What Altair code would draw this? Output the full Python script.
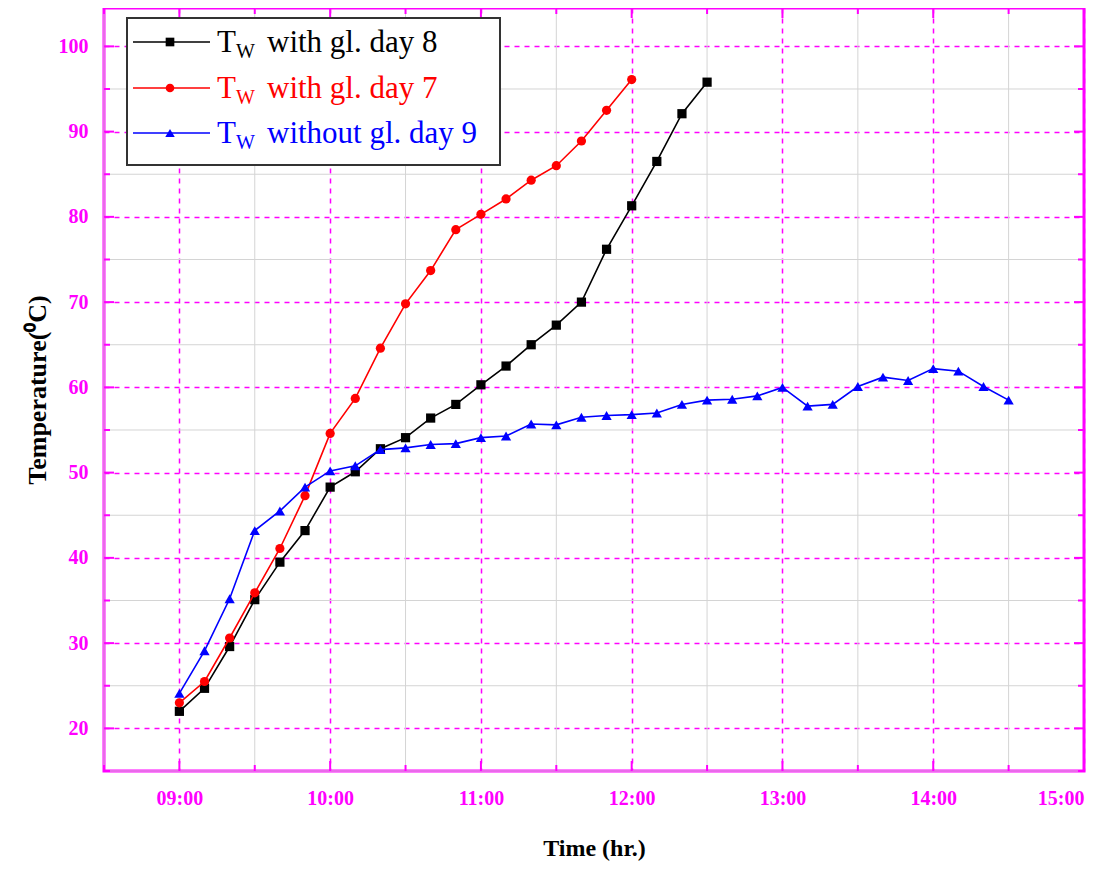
import altair as alt
import pandas as pd

# ---------------- data ----------------
times_black = ["09:00", "09:10", "09:20", "09:30", "09:40", "09:50", "10:00", "10:10",
               "10:20", "10:30", "10:40", "10:50", "11:00", "11:10", "11:20", "11:30",
               "11:40", "11:50", "12:00", "12:10", "12:20", "12:30"]
temp_black = [22.0, 24.7, 29.6, 35.1, 39.5, 43.2, 48.3, 50.1, 52.8, 54.1, 56.4, 58.0,
              60.3, 62.5, 65.0, 67.3, 70.0, 76.2, 81.3, 86.5, 92.1, 95.8]

times_red = ["09:00", "09:10", "09:20", "09:30", "09:40", "09:50", "10:00", "10:10",
             "10:20", "10:30", "10:40", "10:50", "11:00", "11:10", "11:20", "11:30",
             "11:40", "11:50", "12:00"]
temp_red = [23.0, 25.5, 30.6, 35.9, 41.1, 47.3, 54.6, 58.7, 64.6, 69.8, 73.7, 78.5,
            80.3, 82.1, 84.3, 86.0, 88.9, 92.5, 96.1]

times_blue = ["09:00", "09:10", "09:20", "09:30", "09:40", "09:50", "10:00", "10:10",
              "10:20", "10:30", "10:40", "10:50", "11:00", "11:10", "11:20", "11:30",
              "11:40", "11:50", "12:00", "12:10", "12:20", "12:30", "12:40", "12:50",
              "13:00", "13:10", "13:20", "13:30", "13:40", "13:50", "14:00", "14:10",
              "14:20", "14:30"]
temp_blue = [24.1, 29.1, 35.2, 43.2, 45.5, 48.3, 50.2, 50.8, 52.7, 52.9, 53.3, 53.4,
             54.1, 54.3, 55.7, 55.6, 56.5, 56.7, 56.8, 57.0, 58.0, 58.5, 58.6, 59.0,
             60.0, 57.8, 58.0, 60.1, 61.2, 60.8, 62.2, 61.9, 60.1, 58.5]

series_names = ["black", "red", "blue"]
series_colors = ["#000000", "#ff0000", "#0000ff"]
series_shapes = ["square", "circle", "triangle-up"]
legend_rest = ["with gl. day 8", "with gl. day 7", "without gl. day 9"]

x_major = [9, 10, 11, 12, 13, 14, 15]
x_minor = [8.5, 9.5, 10.5, 11.5, 12.5, 13.5, 14.5]
y_major = [20, 30, 40, 50, 60, 70, 80, 90, 100]
y_minor = [15, 25, 35, 45, 55, 65, 75, 85, 95]


def to_hours(t):
    h, m = t.split(":")
    return int(h) + int(m) / 60.0


rows = []
for name, ts, vs in [("black", times_black, temp_black),
                     ("red", times_red, temp_red),
                     ("blue", times_blue, temp_blue)]:
    for t, v in zip(ts, vs):
        rows.append({"series": name, "hour": to_hours(t), "temp": v})
df = pd.DataFrame(rows)

W, H = 980, 763
MAG = "#ff00ff"
FONT = "Liberation Serif"

xscale = alt.Scale(domain=[8.5, 15], nice=False, zero=False)
yscale = alt.Scale(domain=[15, 104.5], nice=False, zero=False)

xaxis = alt.Axis(values=x_major, grid=True, gridColor=MAG, gridDash=[5, 5], gridWidth=1.5,
                 ticks=False, domain=False,
                 labelExpr="(datum.value < 10 ? '0' : '') + datum.value + ':00'",
                 labelColor=MAG, labelFont=FONT, labelFontWeight="bold", labelFontSize=20,
                 labelPadding=17, title="Time (hr.)", titleFont=FONT, titleFontSize=24,
                 titleFontWeight="bold", titleColor="black", titlePadding=28)
yaxis = alt.Axis(values=y_major, grid=True, gridColor=MAG, gridDash=[5, 5], gridWidth=1.5,
                 ticks=False, domain=False,
                 labelColor=MAG, labelFont=FONT, labelFontWeight="bold", labelFontSize=20,
                 labelPadding=16, title="Temperature(⁰C)", titleFont=FONT, titleFontSize=26,
                 titleFontWeight="bold", titleColor="black", titlePadding=8)

xminor_df = pd.DataFrame({"h": x_minor})
yminor_df = pd.DataFrame({"v": y_minor})
xmajor_df = pd.DataFrame({"h": x_major})
ymajor_df = pd.DataFrame({"v": y_major})

base_axes = alt.Chart(df).mark_point(opacity=0).encode(
    x=alt.X("hour:Q", scale=xscale, axis=xaxis),
    y=alt.Y("temp:Q", scale=yscale, axis=yaxis),
)

minor_x_grid = alt.Chart(xminor_df).mark_rule(color="#d4d4d4", strokeWidth=1).encode(
    x=alt.X("h:Q", scale=xscale))
minor_y_grid = alt.Chart(yminor_df).mark_rule(color="#d4d4d4", strokeWidth=1).encode(
    y=alt.Y("v:Q", scale=yscale))

layers = [base_axes, minor_x_grid, minor_y_grid]

# inward ticks on all four sides
for dfx, ln in [(xmajor_df, 10), (xminor_df, 6)]:
    layers.append(alt.Chart(dfx).mark_rule(color=MAG, strokeWidth=2).encode(
        x=alt.X("h:Q", scale=xscale), y=alt.value(H), y2=alt.value(H - ln)))
    layers.append(alt.Chart(dfx).mark_rule(color=MAG, strokeWidth=2).encode(
        x=alt.X("h:Q", scale=xscale), y=alt.value(0), y2=alt.value(ln)))
for dfy, ln in [(ymajor_df, 10), (yminor_df, 6)]:
    layers.append(alt.Chart(dfy).mark_rule(color=MAG, strokeWidth=2).encode(
        y=alt.Y("v:Q", scale=yscale), x=alt.value(0), x2=alt.value(ln)))
    layers.append(alt.Chart(dfy).mark_rule(color=MAG, strokeWidth=2).encode(
        y=alt.Y("v:Q", scale=yscale), x=alt.value(W), x2=alt.value(W - ln)))

# data series
for name, shape in zip(series_names, series_shapes):
    sub = df[df["series"] == name]
    col = series_colors[series_names.index(name)]
    line = alt.Chart(sub).mark_line(color=col, strokeWidth=1.6).encode(
        x=alt.X("hour:Q", scale=xscale), y=alt.Y("temp:Q", scale=yscale))
    sz = 105 if shape == "triangle-up" else 85
    pts = alt.Chart(sub).mark_point(filled=True, color=col, shape=shape, size=sz, opacity=1).encode(
        x=alt.X("hour:Q", scale=xscale), y=alt.Y("temp:Q", scale=yscale))
    layers += [line, pts]

# custom legend
box_df = pd.DataFrame({"k": [0]})
layers.append(alt.Chart(box_df).mark_rect(fill="white", stroke="#333333", strokeWidth=2).encode(
    x=alt.value(23), x2=alt.value(396), y=alt.value(10), y2=alt.value(157)))
row_y = [34, 80, 125]
for i, name in enumerate(series_names):
    col = series_colors[i]
    yc = row_y[i]
    ldf = pd.DataFrame({"k": [0]})
    layers.append(alt.Chart(ldf).mark_rule(color=col, strokeWidth=1.6).encode(
        x=alt.value(29), x2=alt.value(106), y=alt.value(yc)))
    sz = 90 if series_shapes[i] == "triangle-up" else 75
    layers.append(alt.Chart(ldf).mark_point(filled=True, color=col, shape=series_shapes[i],
                                            size=sz, opacity=1).encode(
        x=alt.value(66), y=alt.value(yc)))
    layers.append(alt.Chart(ldf).mark_text(text="T", font=FONT, fontSize=31, color=col,
                                           align="left", baseline="alphabetic").encode(
        x=alt.value(113), y=alt.value(yc + 10)))
    layers.append(alt.Chart(ldf).mark_text(text="W", font=FONT, fontSize=20, color=col,
                                           align="left", baseline="alphabetic").encode(
        x=alt.value(132), y=alt.value(yc + 16)))
    layers.append(alt.Chart(ldf).mark_text(text=legend_rest[i], font=FONT, fontSize=31, color=col,
                                           align="left", baseline="alphabetic").encode(
        x=alt.value(163), y=alt.value(yc + 10)))

chart = alt.layer(*layers).properties(
    width=W, height=H,
    autosize=alt.AutoSizeParams(type="none"),
    padding={"left": 96, "top": 0, "right": 20, "bottom": 90},
).configure_view(stroke=MAG, strokeWidth=3)

chart.save("out.html", embed_options={"renderer": "svg", "actions": False})
